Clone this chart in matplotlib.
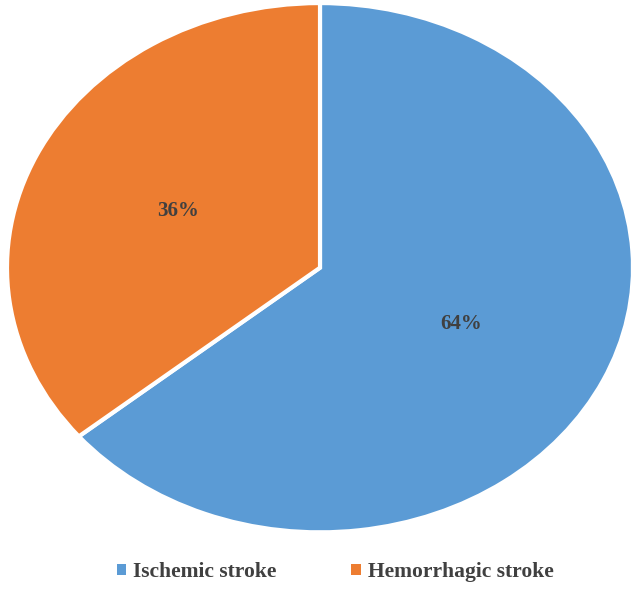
import matplotlib.pyplot as plt
from matplotlib.patches import Patch

# 数据
categories = ["Ischemic stroke", "Hemorrhagic stroke"]
shares = [64, 36]
colors = ["#5B9BD5", "#ED7D31"]

plt.rcParams["font.family"] = ["Liberation Serif", "DejaVu Serif"]

fig = plt.figure(figsize=(6.32, 6.14), dpi=100)
ax = fig.add_axes([7 / 632, 0.133, 626 / 632, 0.862])

wedges, texts, autotexts = ax.pie(
    shares,
    colors=colors,
    startangle=90,
    counterclock=False,
    autopct="%d%%",
    pctdistance=0.5,
    wedgeprops=dict(edgecolor="white", linewidth=3),
    textprops=dict(color="#404040", fontsize=15, fontweight="bold"),
)
ax.set_aspect("auto")
ax.set_xlim(-1.0, 1.0)
ax.set_ylim(-1.0, 1.0)

handles = [Patch(facecolor=c, edgecolor="none") for c in colors]
fig.legend(
    handles,
    categories,
    loc="center",
    bbox_to_anchor=(0.530, 0.068),
    ncol=2,
    frameon=False,
    handlelength=0.45,
    handleheight=0.45,
    handletextpad=0.3,
    columnspacing=3.5,
    prop=dict(family=["Liberation Serif"], weight="bold", size=15.5),
    labelcolor="#404040",
)

fig.savefig("out.png", dpi=100)
